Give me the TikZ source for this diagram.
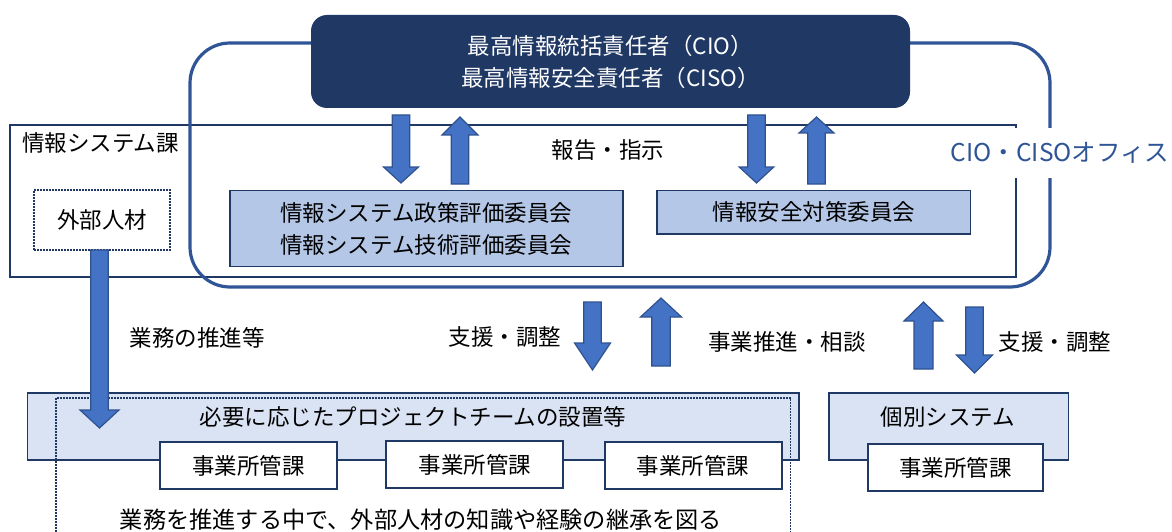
\documentclass[tikz,border=0pt]{standalone}
\usepackage{fontspec}
\setmainfont{Noto Sans CJK JP}
\definecolor{navy}{HTML}{203864}
\definecolor{officeblue}{HTML}{2F5597}
\definecolor{arrowfill}{HTML}{4472C4}
\definecolor{arrowline}{HTML}{2F528F}
\definecolor{comfill}{HTML}{B4C7E7}
\definecolor{ptfill}{HTML}{DAE3F3}
\newcommand{\varrowdraw}[6]{%
  \draw[blk] ({#1-#5},#2) -- ({#1-#5},#3) -- ({#1-#6},#3) -- (#1,#4) -- ({#1+#6},#3) -- ({#1+#5},#3) -- ({#1+#5},#2) -- cycle;}
\begin{document}
\begin{tikzpicture}[x=1pt,y=-1pt,
  every node/.style={font=\fontsize{22.5}{32}\selectfont, inner sep=0pt, text=black},
  thinbox/.style={draw=navy, line width=1.5pt},
  dotline/.style={draw=navy, line width=1.6pt, dash pattern=on 1.6pt off 1.4pt},
  subbox/.style={draw=navy, line width=2pt, fill=white, minimum width=177pt, minimum height=47pt},
  blk/.style={fill=arrowfill, draw=arrowline, line width=1.2pt, line join=miter}]
\useasboundingbox (0,0) rectangle (1172,532);
% 情報システム課
\node[thinbox, minimum width=1006pt, minimum height=152pt] (isys) at (512.8,201) {};
\node (isyslabel) at (100.5,143) {情報システム課};
% CIO・CISO office
\node[draw=officeblue, line width=3.2pt, rounded corners=40pt, minimum width=860pt, minimum height=244pt] (office) at (620,165) {};
\node[fill=navy, rounded corners=16pt, minimum width=599pt, minimum height=93pt, text=white, align=center] (cio) at (610.5,61.5) {最高情報統括責任者（CIO）\\最高情報安全責任者（CISO）};
\node[fill=white, text=officeblue, minimum height=49pt, inner xsep=3pt, font=\fontsize{24.5}{30}\selectfont] (officelabel) at (1060,153) {CIO・CISOオフィス};
% 外部人材
\node[dotline, minimum width=136pt, minimum height=60pt] (gaibu) at (102,220) {外部人材};
% committees
\node[thinbox, fill=comfill, minimum width=393pt, minimum height=76pt, align=center] (com1) at (426.3,228.7) {情報システム政策評価委員会\\情報システム技術評価委員会};
\node[thinbox, fill=comfill, minimum width=313.6pt, minimum height=43.3pt] (com2) at (813.8,212.3) {情報安全対策委員会};
\node (hokoku) at (608,150) {報告・指示};
% project team
\node[thinbox, fill=ptfill, minimum width=771.5pt, minimum height=67pt] (pt) at (413.25,426.5) {};
\node (ptlabel) at (413,417) {必要に応じたプロジェクトチームの設置等};
\coordinate (dotbl) at (56,532);
\coordinate (dotbr) at (790.6,532);
\draw[dotline] (dotbl) -- (56,398) -- (790.6,398) -- (dotbr);
\node[subbox] (jg1) at (248.5,465.5) {事業所管課};
\node[subbox] (jg2) at (474.75,464.5) {事業所管課};
\node[subbox] (jg3) at (693,465.5) {事業所管課};
% individual systems
\node[thinbox, fill=ptfill, minimum width=239.7pt, minimum height=67pt] (kobetsu) at (948.85,426.5) {};
\node (kobetsulabel) at (948,417) {個別システム};
\node[subbox, minimum width=175.5pt] (jg4) at (955.25,467.5) {事業所管課};
% block arrows: x, tail, head base, tip, half shaft, half head
\varrowdraw{401}{115}{167}{183}{8.7}{17.5}
\varrowdraw{460}{184}{135}{117}{8.7}{18}
\varrowdraw{756.5}{115}{167}{183}{8.7}{17.3}
\varrowdraw{816.5}{184}{133}{117}{8.7}{17.5}
\varrowdraw{99.5}{250}{410}{428}{8.7}{19.5}
\varrowdraw{592.5}{302}{343}{370}{8.7}{18}
\varrowdraw{661}{366}{317}{298}{9.2}{20.5}
\varrowdraw{923.5}{369}{321}{302}{9.5}{19.5}
\varrowdraw{974.5}{307}{355}{373}{8.7}{18}
% labels
\node (l1) at (197,338) {業務の推進等};
\node (l2) at (505,337) {支援・調整};
\node (l3) at (787,342) {事業推進・相談};
\node (l4) at (1055,342) {支援・調整};
\node[font=\fontsize{23.2}{30}\selectfont] (l5) at (421,520) {業務を推進する中で、外部人材の知識や経験の継承を図る};
\end{tikzpicture}
\end{document}
